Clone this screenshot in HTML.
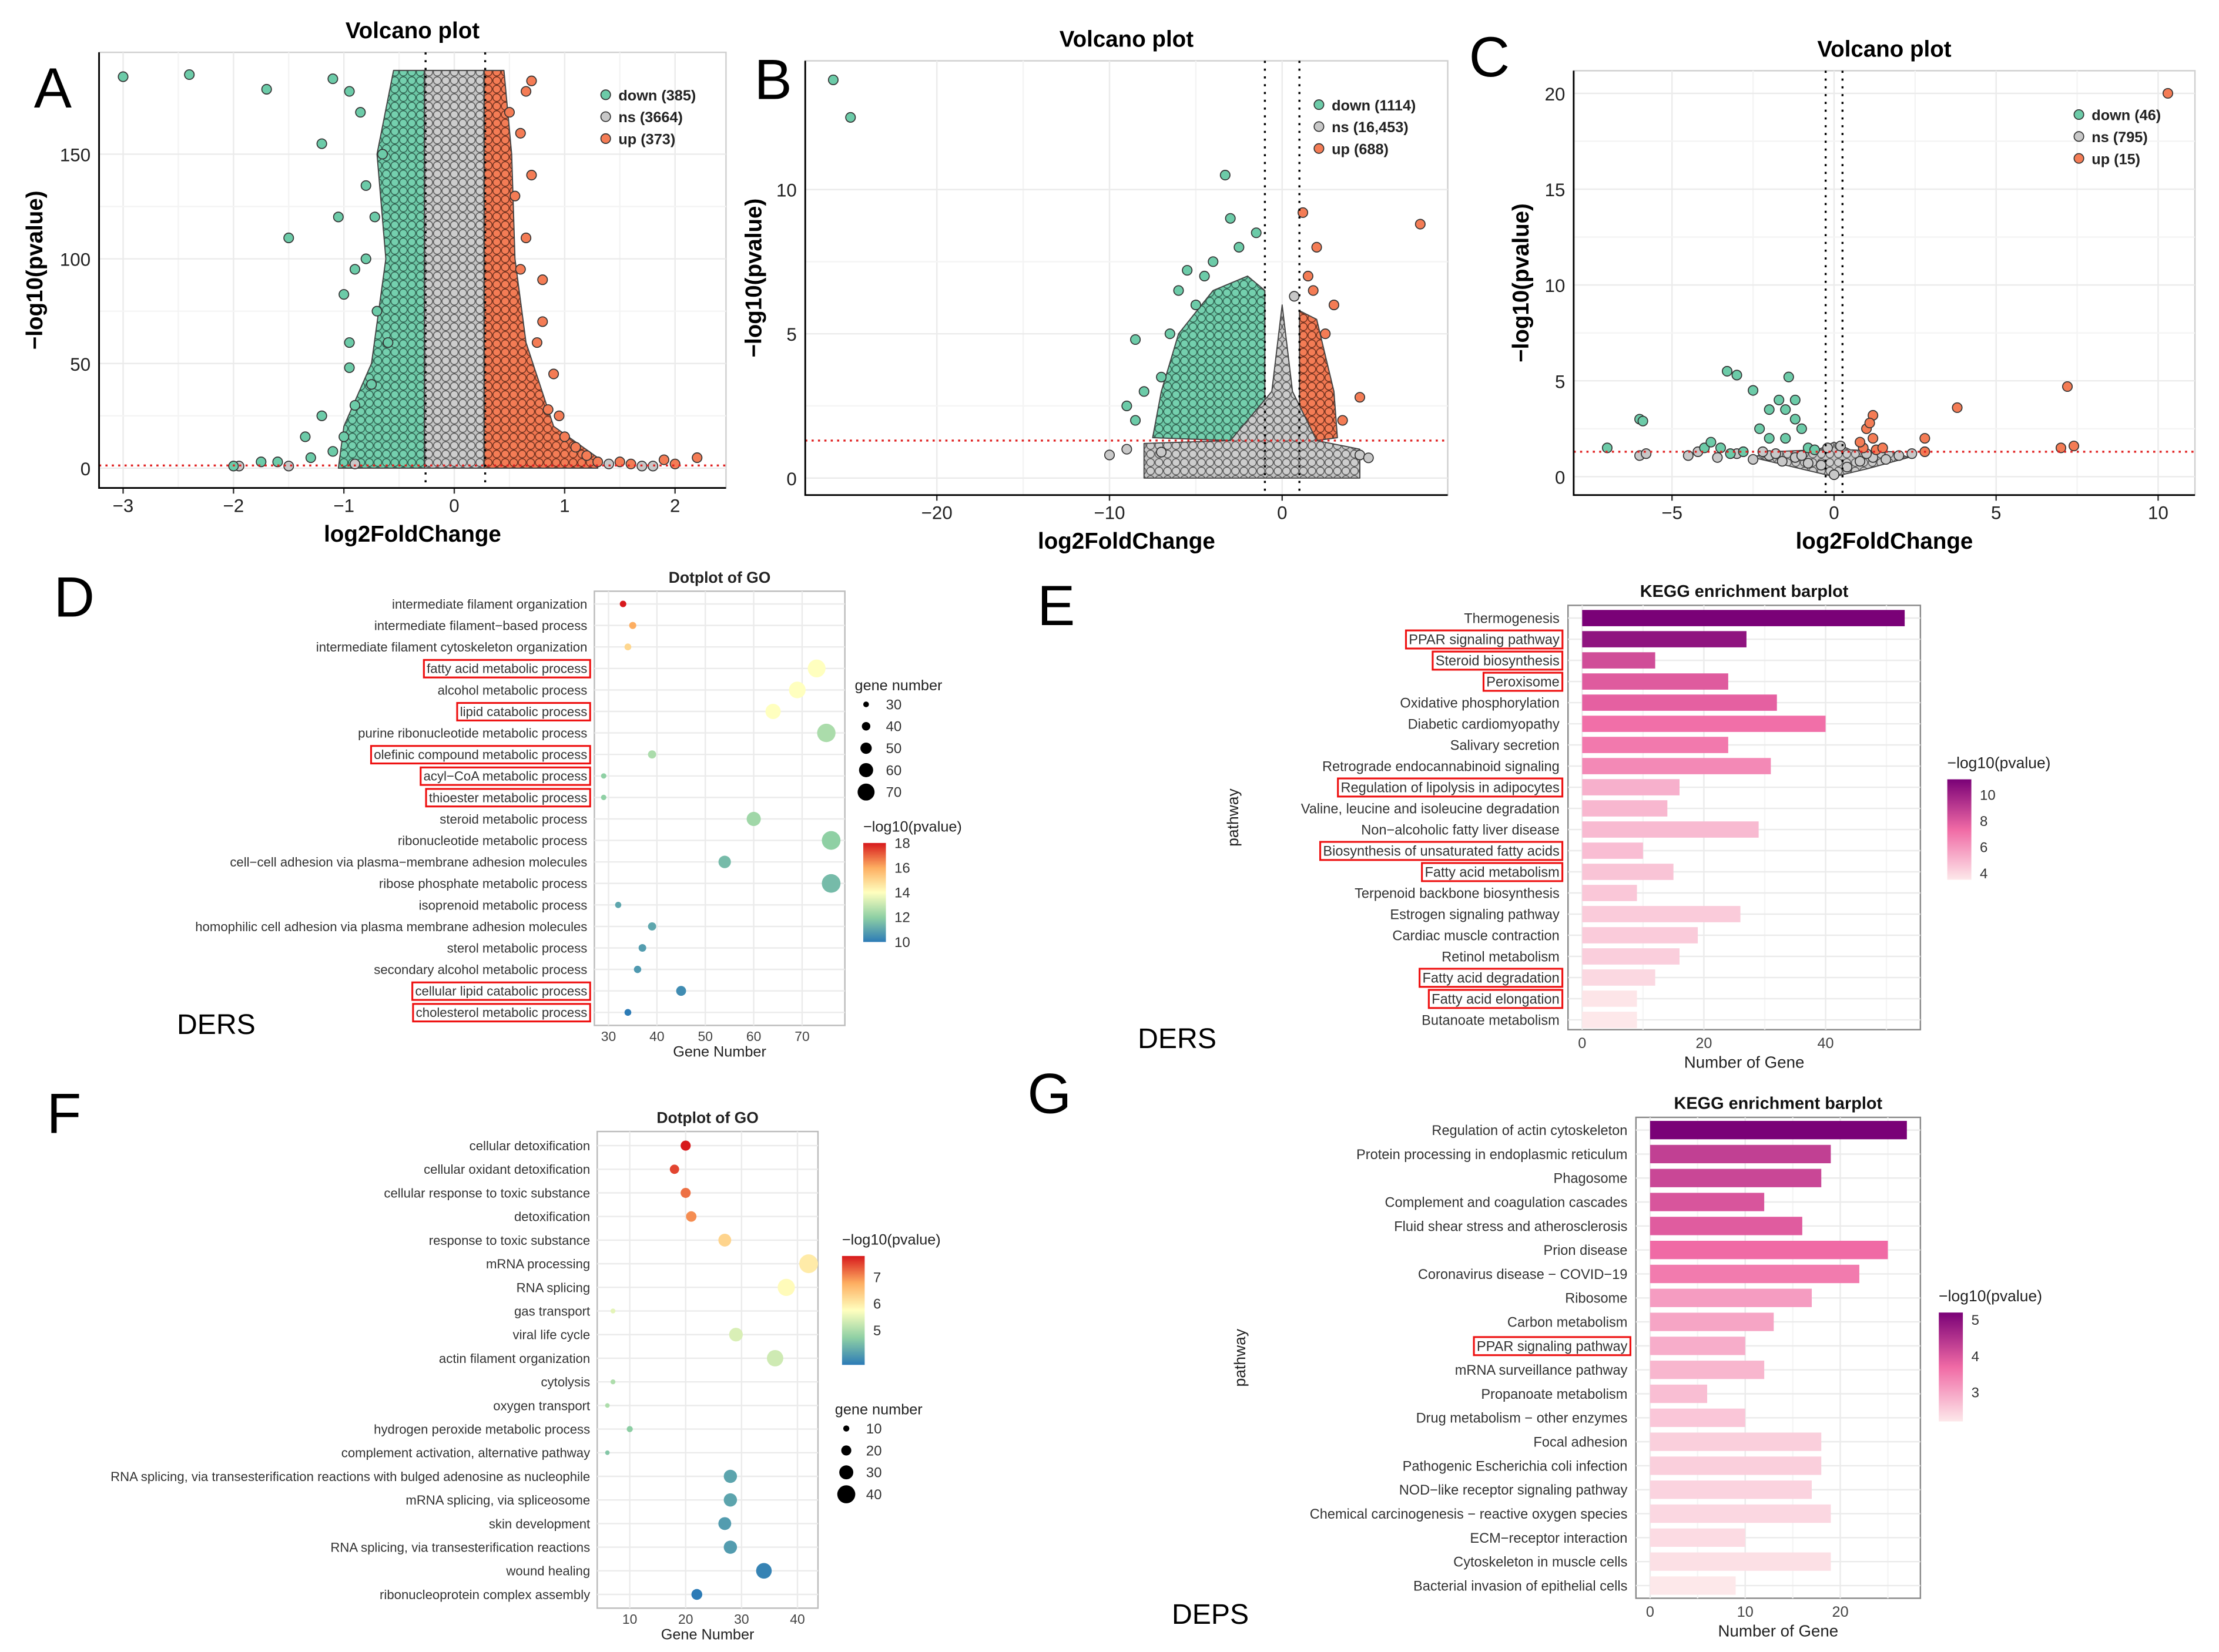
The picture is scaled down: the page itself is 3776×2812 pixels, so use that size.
<!DOCTYPE html>
<html><head><meta charset="utf-8"><style>
html,body{margin:0;padding:0;background:#fff;width:3776px;height:2812px;overflow:hidden}
svg{display:block;font-family:"Liberation Sans",Arial,sans-serif}
</style></head><body>
<svg id="fig" width="3776" height="2812" viewBox="0 0 1568 1168" preserveAspectRatio="none" xmlns="http://www.w3.org/2000/svg">
<defs>
<linearGradient id="gSpec" x1="0" y1="1" x2="0" y2="0">
<stop offset="0" stop-color="#2c7bb6"/><stop offset="0.25" stop-color="#8fd0a4"/><stop offset="0.5" stop-color="#ffffbf"/><stop offset="0.75" stop-color="#fdae61"/><stop offset="1" stop-color="#d7191c"/></linearGradient>
<linearGradient id="gKegg" x1="0" y1="1" x2="0" y2="0">
<stop offset="0" stop-color="#fde8ea"/><stop offset="0.5" stop-color="#f06aa5"/><stop offset="1" stop-color="#7a0177"/></linearGradient>
<pattern id="pNs" width="6" height="6" patternUnits="userSpaceOnUse"><rect width="6" height="6" fill="#c4c4c4"/><circle cx="3" cy="3" r="2.7" fill="#cdcdcd" stroke="#555" stroke-width="0.6"/></pattern>
<pattern id="pDn" width="6" height="6" patternUnits="userSpaceOnUse"><rect width="6" height="6" fill="#6cc8a6"/><circle cx="3" cy="3" r="2.7" fill="#74d0ae" stroke="#2f5f4e" stroke-width="0.6"/></pattern>
<pattern id="pUp" width="6" height="6" patternUnits="userSpaceOnUse"><rect width="6" height="6" fill="#f27650"/><circle cx="3" cy="3" r="2.7" fill="#f47c55" stroke="#6a2f1d" stroke-width="0.6"/></pattern>
</defs>
<g id="root"></g>
</svg>
<script>
// ===== Volcano A data =====
const aDownX=[-3,-2.4,-1.7,-1.5,-1.2,-1.1,-1.05,-1.0,-0.95,-0.95,-0.9,-1.2,-1.3,-1.6,-1.75,-2.0,-1.35,-0.8,-0.85,-0.95,-1.0,-1.1,-0.9,-0.75,-0.7,-0.8,-0.65,-0.72,-0.6];
const aDownY=[187,188,181,110,155,186,120,83,60,48,95,25,5,3,3,1,15,135,170,180,15,8,30,40,75,100,150,120,60];
const aUpX=[2.2,1.9,1.5,1.1,0.95,0.9,0.75,0.8,0.65,0.7,0.6,0.65,0.7,1.2,1.3,1.0,0.85,1.6,2.0,0.55,0.5,0.6,0.8];
const aUpY=[5,4,3,10,25,45,60,90,110,140,160,180,185,6,3,15,28,2,2,130,170,95,70];
const aNsX=[-1.95,1.4,1.7,-0.9,1.8,-1.5];
const aNsY=[1,2,1,2,1,1];
const aNsEnvX=[-0.27,0.27,0.27,-0.27];
const aNsEnvY=[0,0,190,190];
const aDnEnvX=[-0.27,-0.27,-0.55,-0.7,-0.62,-0.75,-1.0,-1.05];
const aDnEnvY=[0,190,190,150,100,50,20,0];
const aUpEnvX=[0.27,0.27,0.45,0.52,0.55,0.65,0.9,1.3,1.3];
const aUpEnvY=[0,190,190,150,100,60,20,5,0];
// ===== Volcano B data =====
const bDownX=[-26,-25,-3.3,-3,-4,-8.5,-8,-9,-8.5,-6,-5.5,-2.5,-1.5,-7,-6.5,-5,-4.5];
const bDownY=[13.8,12.5,10.5,9,7.5,4.8,3,2.5,2,6.5,7.2,8,8.5,3.5,5,6,7];
const bUpX=[8,1.2,2,1.5,4.5,3,2.5,3.5,1.8];
const bUpY=[8.8,9.2,8,7,2.8,6,5,2,6.5];
const bNsX=[-9,-10,4.5,5,-7,0.7];
const bNsY=[1,0.8,0.8,0.7,0.9,6.3];
const bNsEnvX=[-8,4.5,4.5,2,0.6,0,-0.6,-3,-8];
const bNsEnvY=[0,0,1,1.3,3,6,3,1.3,1.2];
const bDnEnvX=[-1,-1,-2,-4,-6,-7,-7.5,-3];
const bDnEnvY=[1.3,6.5,7,6.5,5,3,1.4,1.3];
const bUpEnvX=[1,1,2,3,3.2,2];
const bUpEnvY=[1.3,5.8,5.5,3,1.4,1.3];
// ===== Volcano C data =====
const cDownX=[-7,-6,-5.9,-4,-3.5,-3.3,-3,-2.5,-2.3,-2,-1.5,-1.4,-1.2,-1,-2.8,-3.8,-1.5,-0.8,-2,-1.2,-3.2,-1.7,-0.6];
const cDownY=[1.5,3,2.9,1.5,1.5,5.5,5.3,4.5,2.5,3.5,3.5,5.2,4,2.5,1.3,1.8,2,1.5,2,3,1.2,4,1.4];
const cUpX=[10.3,7.2,7,7.4,3.8,2.8,2.8,1.2,1,1.2,0.9,1.3,1.1,0.8,1.5];
const cUpY=[20,4.7,1.5,1.6,3.6,2,1.3,3.2,2.5,2,1.5,1.4,2.8,1.8,1.5];
const cNsX=[-6,-5.8,-4.5,-4.2,-3.6,-3,-2.5,-2,-1.6,-1.2,-0.8,-0.4,0,0.4,0.8,1.2,1.6,2,2.4,-2.2,-1.8,-1,1,-0.2,0.2];
const cNsY=[1.1,1.2,1.1,1.3,1,1.2,0.9,1.1,0.8,1,0.7,0.6,0.1,0.5,0.8,1,0.9,1.1,1.2,1.3,1.2,1.1,1.2,1.5,1.6];
const cNsEnvX=[-2.5,-1,0,1,2.3,1.8,0.5,0,-0.5,-2];
const cNsEnvY=[1,0.4,0,0.4,1,1.3,1.4,1.8,1.4,1.3];

// ===== Dotplot D =====
const dTerms=["intermediate filament organization","intermediate filament−based process","intermediate filament cytoskeleton organization","fatty acid metabolic process","alcohol metabolic process","lipid catabolic process","purine ribonucleotide metabolic process","olefinic compound metabolic process","acyl−CoA metabolic process","thioester metabolic process","steroid metabolic process","ribonucleotide metabolic process","cell−cell adhesion via plasma−membrane adhesion molecules","ribose phosphate metabolic process","isoprenoid metabolic process","homophilic cell adhesion via plasma membrane adhesion molecules","sterol metabolic process","secondary alcohol metabolic process","cellular lipid catabolic process","cholesterol metabolic process"];
const dCount=[33,35,34,73,69,64,75,39,29,29,60,76,54,76,32,39,37,36,45,34];
const dLogP=[18,16,15,14,14,14,12.5,12.5,12,12,12.3,12,11.5,11.5,11,11,10.8,10.7,10.4,10];
const dBoxed=[3,5,7,8,9,18,19];
const dXTicks=[30,40,50,60,70];
// ===== Dotplot F =====
const fTerms=["cellular detoxification","cellular oxidant detoxification","cellular response to toxic substance","detoxification","response to toxic substance","mRNA processing","RNA splicing","gas transport","viral life cycle","actin filament organization","cytolysis","oxygen transport","hydrogen peroxide metabolic process","complement activation, alternative pathway","RNA splicing, via transesterification reactions with bulged adenosine as nucleophile","mRNA splicing, via spliceosome","skin development","RNA splicing, via transesterification reactions","wound healing","ribonucleoprotein complex assembly"];
const fCount=[20,18,20,21,27,42,38,7,29,36,7,6,10,6,28,28,27,28,34,22];
const fLogP=[7.8,7.5,7.2,7,6.3,6,5.8,5.5,5.4,5.3,5,5,4.7,4.6,4.2,4.2,4.1,4.1,3.8,3.7];
const fXTicks=[10,20,30,40];
// ===== KEGG E =====
const eTerms=["Thermogenesis","PPAR signaling pathway","Steroid biosynthesis","Peroxisome","Oxidative phosphorylation","Diabetic cardiomyopathy","Salivary secretion","Retrograde endocannabinoid signaling","Regulation of lipolysis in adipocytes","Valine, leucine and isoleucine degradation","Non−alcoholic fatty liver disease","Biosynthesis of unsaturated fatty acids","Fatty acid metabolism","Terpenoid backbone biosynthesis","Estrogen signaling pathway","Cardiac muscle contraction","Retinol metabolism","Fatty acid degradation","Fatty acid elongation","Butanoate metabolism"];
const eCount=[53,27,12,24,32,40,24,31,16,14,29,10,15,9,26,19,16,12,9,9];
const eLogP=[11.2,10.5,8.4,7.9,7.7,7.2,6.9,6.4,5.2,5,4.9,4.8,4.6,4.5,4.4,4.4,4.3,4,3.6,3.5];
const eBoxed=[1,2,3,8,11,12,17,18];
const eXTicks=[0,20,40];
// ===== KEGG G =====
const gTerms=["Regulation of actin cytoskeleton","Protein processing in endoplasmic reticulum","Phagosome","Complement and coagulation cascades","Fluid shear stress and atherosclerosis","Prion disease","Coronavirus disease − COVID−19","Ribosome","Carbon metabolism","PPAR signaling pathway","mRNA surveillance pathway","Propanoate metabolism","Drug metabolism − other enzymes","Focal adhesion","Pathogenic Escherichia coli infection","NOD−like receptor signaling pathway","Chemical carcinogenesis − reactive oxygen species","ECM−receptor interaction","Cytoskeleton in muscle cells","Bacterial invasion of epithelial cells"];
const gCount=[27,19,18,12,16,25,22,17,13,10,12,6,10,18,18,17,19,10,19,9];
const gLogP=[5.2,4.3,4.2,4,3.9,3.7,3.5,3.1,3,2.9,2.8,2.7,2.6,2.5,2.5,2.45,2.4,2.35,2.3,2.2];
const gBoxed=[9];
const gXTicks=[0,10,20];

const NS='http://www.w3.org/2000/svg';
const root=document.getElementById('root');
function mk(tag,attrs,parent){const e=document.createElementNS(NS,tag);for(const k in attrs)e.setAttribute(k,attrs[k]);(parent||root).appendChild(e);return e;}
function txt(s,x,y,size,opts){const t=mk('text',Object.assign({x:x,y:y,'font-size':size,fill:'#222'},opts||{}));t.textContent=s;return t;}
function lerpHex(a,b,t){const pa=[1,3,5].map(i=>parseInt(a.substr(i,2),16)),pb=[1,3,5].map(i=>parseInt(b.substr(i,2),16));return 'rgb('+pa.map((v,i)=>Math.round(v+(pb[i]-v)*t)).join(',')+')';}
function ramp(stops,t){t=Math.max(0,Math.min(1,t));const n=stops.length-1;const i=Math.min(n-1,Math.floor(t*n));return lerpHex(stops[i],stops[i+1],t*n-i);}
const spec=['#2c7bb6','#8fd0a4','#ffffbf','#fdae61','#d7191c'];
const kegg=['#fde8ea','#f06aa5','#7a0177'];

[['A',24,76],['B',533,70],['C',1038,54],['D',38,436],['E',733,442],['F',33,801],['G',726,787]].forEach(p=>{
  const t=txt(p[0],p[1],p[2],40,{'font-weight':'normal','fill':'#000'});
  
  
});
[['DERS',125,731],['DERS',804,741],['DEPS',828,1148]].forEach((p,i)=>{
  const t=txt(p[0],p[1],p[2],20,{fill:'#000'});
  
  
});

function volcano(cfg){
  const g=mk('g',{});
  
  
  const sx=v=>cfg.x0+v*cfg.kx, sy=v=>cfg.y0-v*cfg.ky;
  const L=cfg.L,R=cfg.R,T=cfg.T,B=cfg.B;
  const bg=mk('rect',{x:L,y:T,width:R-L,height:B-T,fill:'#fff',stroke:'#cfcfcf'},g);
  
  
  cfg.xt.forEach((v,i)=>{
    const gl=mk('line',{x1:sx(v),x2:sx(v),y1:T,y2:B,stroke:'#ebebeb','stroke-width':1},g);
    
    
    if(i<cfg.xt.length-1){const m=(v+cfg.xt[i+1])/2;const gm=mk('line',{x1:sx(m),x2:sx(m),y1:T,y2:B,stroke:'#f4f4f4'},g);
    
    }
    const tl=txt(String(v).replace('-','−'),sx(v),B+17,13,{'text-anchor':'middle',fill:'#222'});
    
    
    g.appendChild(tl);
    const tk=mk('line',{x1:sx(v),x2:sx(v),y1:B,y2:B+4,stroke:'#333'},g);
    
    
  });
  cfg.yt.forEach((v,i)=>{
    const gl=mk('line',{x1:L,x2:R,y1:sy(v),y2:sy(v),stroke:'#ebebeb'},g);
    
    
    if(i<cfg.yt.length-1){const m=(v+cfg.yt[i+1])/2;const gm=mk('line',{x1:L,x2:R,y1:sy(m),y2:sy(m),stroke:'#f4f4f4'},g);
    
    }
    const tl=txt(String(v),L-6,sy(v)+5,13,{'text-anchor':'end'});
    
    
    g.appendChild(tl);
  });
  function env(xs,ys,fill,nm){
    if(!xs.length) return;
    const pts=xs.map((x,i)=>sx(x)+','+sy(ys[i])).join(' ');
    const p=mk('polygon',{points:pts,fill:fill,stroke:'#444','stroke-width':0.8,'stroke-linejoin':'round'},g);
    
    
  }
  function pts(xs,ys,fill,nm){
    xs.forEach((x,i)=>{
      const c=mk('circle',{cx:sx(x),cy:sy(ys[i]),r:3.4,fill:fill,stroke:'#333','stroke-width':0.7},g);
      
      
    });
  }
  env(cfg.dnEnvX,cfg.dnEnvY,'url(#pDn)','down-point-cloud');
  env(cfg.upEnvX,cfg.upEnvY,'url(#pUp)','up-point-cloud');
  env(cfg.nsEnvX,cfg.nsEnvY,'url(#pNs)','ns-point-cloud');
  pts(cfg.nsX,cfg.nsY,'#c8c8c8','ns-point');
  pts(cfg.dnX,cfg.dnY,'#6ccba8','down-point');
  pts(cfg.upX,cfg.upY,'#f47c55','up-point');
  cfg.vl.forEach(v=>{const l=mk('line',{x1:sx(v),x2:sx(v),y1:T,y2:B,stroke:'#000','stroke-width':1.4,'stroke-dasharray':'1.5,4'},g);
    
    });
  const hl=mk('line',{x1:L,x2:R,y1:sy(1.3),y2:sy(1.3),stroke:'#e02020','stroke-width':1.4,'stroke-dasharray':'1.5,3'},g);
  
  
  const ax=mk('path',{d:`M${L},${T}V${B}H${R}`,fill:'none',stroke:'#000','stroke-width':1.2},g);
  
  
  const ti=txt('Volcano plot',(L+R)/2,T-10,16,{'text-anchor':'middle','font-weight':'bold',fill:'#000'});
  
  
  g.appendChild(ti);
  const xl=txt('log2FoldChange',(L+R)/2,B+38,16,{'text-anchor':'middle','font-weight':'bold',fill:'#000'});
  
  
  g.appendChild(xl);
  const yl=txt('−log10(pvalue)',0,0,16,{'text-anchor':'middle','font-weight':'bold',fill:'#000',transform:`translate(${cfg.ylx},${(T+B)/2}) rotate(-90)`});
  
  
  g.appendChild(yl);
  const cols=['#6ccba8','#c8c8c8','#f47c55'];
  cfg.leg.forEach((s,i)=>{
    const c=mk('circle',{cx:cfg.lx,cy:cfg.ly+i*15.5,r:3.4,fill:cols[i],stroke:'#333','stroke-width':0.7},g);
    
    
    const t=txt(s,cfg.lx+9,cfg.ly+i*15.5+4,10.5,{'font-weight':'bold',fill:'#222'});
    
    
    g.appendChild(t);
  });
}
volcano({name:'volcano-a',L:70,R:513,T:37,B:345,x0:321,kx:78,y0:331,ky:1.48,xt:[-3,-2,-1,0,1,2],yt:[0,50,100,150],ylx:30,
  dnX:aDownX,dnY:aDownY,upX:aUpX,upY:aUpY,nsX:aNsX,nsY:aNsY,nsEnvX:aNsEnvX,nsEnvY:aNsEnvY,dnEnvX:aDnEnvX,dnEnvY:aDnEnvY,upEnvX:aUpEnvX,upEnvY:aUpEnvY,
  vl:[-0.26,0.28],lx:428,ly:67,leg:['down (385)','ns (3664)','up (373)']});
volcano({name:'volcano-b',L:569,R:1023,T:43,B:350,x0:906,kx:12.2,y0:338,ky:20.4,xt:[-20,-10,0],yt:[0,5,10],ylx:538,
  dnX:bDownX,dnY:bDownY,upX:bUpX,upY:bUpY,nsX:bNsX,nsY:bNsY,nsEnvX:bNsEnvX,nsEnvY:bNsEnvY,dnEnvX:bDnEnvX,dnEnvY:bDnEnvY,upEnvX:bUpEnvX,upEnvY:bUpEnvY,
  vl:[-1,1],lx:932,ly:74,leg:['down (1114)','ns (16,453)','up (688)']});
volcano({name:'volcano-c',L:1112,R:1551,T:50,B:350,x0:1296,kx:22.9,y0:337,ky:13.55,xt:[-5,0,5,10],yt:[0,5,10,15,20],ylx:1080,
  dnX:cDownX,dnY:cDownY,upX:cUpX,upY:cUpY,nsX:cNsX,nsY:cNsY,nsEnvX:cNsEnvX,nsEnvY:cNsEnvY,dnEnvX:[],dnEnvY:[],upEnvX:[],upEnvY:[],
  vl:[-0.26,0.26],lx:1469,ly:81,leg:['down (46)','ns (795)','up (15)']});

function boxLabel(t,g){
  const b=t.getBBox();
  const r=mk('rect',{x:b.x-2,y:b.y-1,width:b.width+4,height:b.height+2,fill:'none',stroke:'#ee1111','stroke-width':1.3},g);
  
  
}

function dotplot(cfg){
  const g=mk('g',{});
  
  
  const sx=v=>cfg.x0+(v-cfg.v0)*cfg.kx;
  const sy=i=>cfg.r0+i*cfg.step;
  const bg=mk('rect',{x:cfg.L,y:cfg.T,width:cfg.R-cfg.L,height:cfg.B-cfg.T,fill:'#fff',stroke:'#bbb'},g);
  
  
  cfg.xt.forEach(v=>{
    const l=mk('line',{x1:sx(v),x2:sx(v),y1:cfg.T,y2:cfg.B,stroke:'#ebebeb'},g);
    
    
    const t=txt(String(v),sx(v),cfg.B+11,9.5,{'text-anchor':'middle',fill:'#444'});
    
    
    g.appendChild(t);
  });
  cfg.terms.forEach((s,i)=>{
    const l=mk('line',{x1:cfg.L,x2:cfg.R,y1:sy(i),y2:sy(i),stroke:'#ebebeb'},g);
    
    
    const t=txt(s,cfg.L-5,sy(i)+3.3,cfg.fs,{'text-anchor':'end',fill:'#333'});
    
    
    g.appendChild(t);
    if(cfg.boxed.indexOf(i)>=0) boxLabel(t,g);
  });
  cfg.terms.forEach((s,i)=>{
    const c=mk('circle',{cx:sx(cfg.count[i]),cy:sy(i),r:cfg.rad(cfg.count[i]),fill:ramp(spec,(cfg.p[i]-cfg.pmin)/(cfg.pmax-cfg.pmin))},g);
    
    
  });
  const ti=txt('Dotplot of GO',(cfg.L+cfg.R)/2,cfg.T-6,11,{'text-anchor':'middle','font-weight':'bold',fill:'#222'});
  
  
  g.appendChild(ti);
  const xl=txt('Gene Number',(cfg.L+cfg.R)/2,cfg.B+22,10.5,{'text-anchor':'middle',fill:'#222'});
  
  
  g.appendChild(xl);
  const ct=txt('−log10(pvalue)',cfg.cbx,cfg.cby-8,10.5,{fill:'#222'});
  
  
  g.appendChild(ct);
  const cb=mk('rect',{x:cfg.cbx,y:cfg.cby,width:16,height:cfg.cbh,fill:'url(#gSpec)'},g);
  
  
  cfg.cticks.forEach(v=>{
    const yy=cfg.cby+cfg.cbh*(1-(v-cfg.cmin)/(cfg.cmax-cfg.cmin));
    const t=txt(String(v),cfg.cbx+22,yy+3.5,10,{fill:'#333'});
    
    
    g.appendChild(t);
  });
  const st=txt('gene number',cfg.szx,cfg.szy-10,10.5,{fill:'#222'});
  
  
  g.appendChild(st);
  cfg.szv.forEach((v,i)=>{
    const c=mk('circle',{cx:cfg.szx+8,cy:cfg.szy+i*15.5,r:cfg.rad(v),fill:'#000'},g);
    
    
    const t=txt(String(v),cfg.szx+22,cfg.szy+i*15.5+3.5,10,{fill:'#333'});
    
    
    g.appendChild(t);
  });
}
dotplot({name:'dotplot-d',terms:dTerms,count:dCount,p:dLogP,boxed:dBoxed,xt:dXTicks,L:420,R:597,T:418,B:725,x0:430,v0:30,kx:3.42,r0:427,step:15.2,fs:9.2,
  rad:v=>1.8+(v-28)*0.1,pmin:10,pmax:18,cbx:610,cby:596,cbh:70,cmin:10,cmax:18,cticks:[10,12,14,16,18],szx:604,szy:498,szv:[30,40,50,60,70]});
dotplot({name:'dotplot-f',terms:fTerms,count:fCount,p:fLogP,boxed:[],xt:fXTicks,L:422,R:578,T:800,B:1137,x0:445,v0:10,kx:3.95,r0:810,step:16.7,fs:9.2,
  rad:v=>1.6+(v-6)*0.14,pmin:3.7,pmax:7.8,cbx:595,cby:888,cbh:77,cmin:3.7,cmax:7.8,cticks:[5,6,7],szx:590,szy:1010,szv:[10,20,30,40]});

function kbar(cfg){
  const g=mk('g',{});
  
  
  const sx=v=>cfg.x0+v*cfg.kx, sy=i=>cfg.r0+i*cfg.step;
  const bg=mk('rect',{x:cfg.L,y:cfg.T,width:cfg.R-cfg.L,height:cfg.B-cfg.T,fill:'#fff',stroke:'#888'},g);
  
  
  cfg.xt.forEach((v,i)=>{
    const l=mk('line',{x1:sx(v),x2:sx(v),y1:cfg.T,y2:cfg.B,stroke:'#ebebeb'},g);
    
    
    const m=mk('line',{x1:sx(v+cfg.xt[1]/2),x2:sx(v+cfg.xt[1]/2),y1:cfg.T,y2:cfg.B,stroke:'#f5f5f5'},g);
    
    
    const t=txt(String(v),sx(v),cfg.B+13,10.5,{'text-anchor':'middle',fill:'#444'});
    
    
    g.appendChild(t);
  });
  cfg.terms.forEach((s,i)=>{
    const l=mk('line',{x1:cfg.L,x2:cfg.R,y1:sy(i),y2:sy(i),stroke:'#ebebeb'},g);
    
    
    const b=mk('rect',{x:sx(0),y:sy(i)-cfg.bh/2,width:sx(cfg.count[i])-sx(0),height:cfg.bh,fill:ramp(kegg,(cfg.p[i]-cfg.cmin)/(cfg.cmax-cfg.cmin))},g);
    
    
    const t=txt(s,cfg.L-6,sy(i)+3.5,cfg.fs,{'text-anchor':'end',fill:'#333'});
    
    
    g.appendChild(t);
    if(cfg.boxed.indexOf(i)>=0) boxLabel(t,g);
  });
  const ti=txt('KEGG enrichment barplot',(cfg.L+cfg.R)/2,cfg.T-6,12,{'text-anchor':'middle','font-weight':'bold',fill:'#111'});
  
  
  g.appendChild(ti);
  const xl=txt('Number of Gene',(cfg.L+cfg.R)/2,cfg.B+27,11.5,{'text-anchor':'middle',fill:'#222'});
  
  
  g.appendChild(xl);
  const yl=txt('pathway',0,0,11,{'text-anchor':'middle',fill:'#222',transform:`translate(${cfg.ylx},${(cfg.T+cfg.B)/2}) rotate(-90)`});
  
  
  g.appendChild(yl);
  const ct=txt('−log10(pvalue)',cfg.cbx,cfg.cby-8,11,{fill:'#222'});
  
  
  g.appendChild(ct);
  const cb=mk('rect',{x:cfg.cbx,y:cfg.cby,width:17,height:cfg.cbh,fill:'url(#gKegg)'},g);
  
  
  cfg.cticks.forEach(v=>{
    const yy=cfg.cby+cfg.cbh*(1-(v-cfg.cmin)/(cfg.cmax-cfg.cmin));
    const t=txt(String(v),cfg.cbx+23,yy+3.5,10,{fill:'#333'});
    
    
    g.appendChild(t);
  });
}
kbar({name:'kegg-barplot-e',terms:eTerms,count:eCount,p:eLogP,boxed:eBoxed,xt:eXTicks,L:1108,R:1357,T:428,B:728,x0:1118,kx:4.3,r0:437,step:14.95,bh:11.5,fs:9.8,ylx:875,
  cbx:1376,cby:551,cbh:71,cmin:3.5,cmax:11.2,cticks:[4,6,8,10]});
kbar({name:'kegg-barplot-g',terms:gTerms,count:gCount,p:gLogP,boxed:gBoxed,xt:gXTicks,L:1156,R:1357,T:790,B:1130,x0:1166,kx:6.72,r0:799,step:16.95,bh:13,fs:9.8,ylx:880,
  cbx:1370,cby:928,cbh:77,cmin:2.2,cmax:5.2,cticks:[3,4,5]});
</script>
</body></html>
